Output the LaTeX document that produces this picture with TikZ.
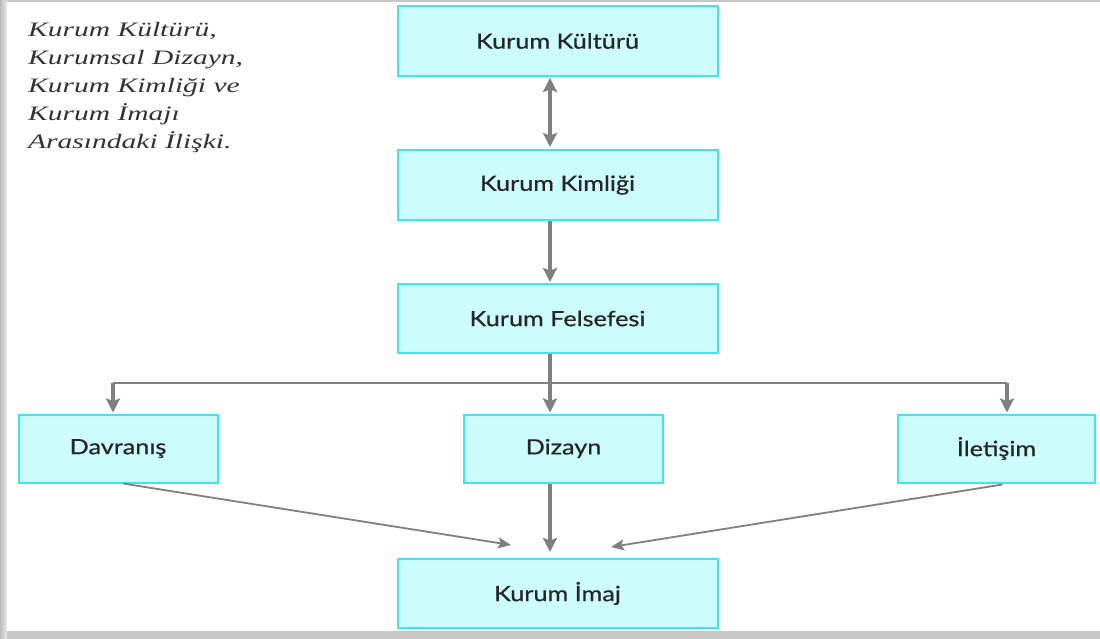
\documentclass[tikz,border=0pt]{standalone}
\usepackage{fontspec}
\usepackage{graphicx}
\setmainfont{Lato}[FakeBold=0.6]
\newfontfamily\capfont{Liberation Serif}
\usetikzlibrary{arrows.meta}
\definecolor{boxfill}{HTML}{CCFCFC}
\definecolor{boxline}{HTML}{3DE6F0}
\definecolor{arr}{HTML}{808080}
\definecolor{txt}{HTML}{262626}
\tikzset{
  box/.style={draw=boxline, line width=2pt, fill=boxfill, inner sep=0pt,
    font=\fontsize{21}{24}\selectfont, text=txt},
  thick arrow/.style={draw=arr, line width=3.2pt, -{Stealth[length=14pt,width=14pt,inset=2.5pt]}},
  thin line/.style={draw=arr, line width=1.8pt},
  thin arrow/.style={draw=arr, line width=1.8pt, -{Stealth[length=13pt,width=11pt,inset=2.5pt]}},
  both arrow/.style={draw=arr, line width=3.2pt, {Stealth[length=14pt,width=14pt,inset=2.5pt]}-{Stealth[length=14pt,width=14pt,inset=2.5pt]}},
}
\newcommand{\wide}[1]{\scalebox{1.2}[1]{#1}}
\newcommand{\capwide}[1]{\scalebox{1.44}[1]{#1}}
\begin{document}
\begin{tikzpicture}[x=1pt,y=-1pt]
\useasboundingbox (0,0) rectangle (1100,639);
% background with shadow
\fill[black!22] (0,0) rectangle (1100,639);
\shade[left color=black!26, right color=black!8] (0,0) rectangle (7,639);
\fill[white] (7,2) rectangle (1100,631);

% caption (base anchor = baseline of the last line)
\node[anchor=base west, align=left, text=black!80, inner sep=0pt,
  font=\capfont\itshape\fontsize{20.5}{28}\selectfont] (cap) at (28,149)
  {\capwide{Kurum Kültürü,}\\ \capwide{Kurumsal Dizayn,}\\ \capwide{Kurum Kimliği ve}\\ \capwide{Kurum İmajı}\\ \capwide{Arasındaki İlişki.}};

% boxes
\node[box, minimum width=320pt, minimum height=70pt] (kk) at (557.5,41) {\wide{Kurum Kültürü}};
\node[box, minimum width=320pt, minimum height=70pt] (kim) at (557.5,185) {\wide{Kurum Kimliği}};
\node[box, minimum width=320pt, minimum height=69pt] (fel) at (557.5,318.5) {\wide{Kurum Felsefesi}};
\node[box, minimum width=199pt, minimum height=68pt] (dav) at (118,448.5) {\wide{Davranış}};
\node[box, minimum width=199pt, minimum height=68pt] (diz) at (563.5,448.5) {\wide{Dizayn}};
\node[box, minimum width=197pt, minimum height=68pt] (ilet) at (996.5,448.5) {\wide{İletişim}};
\node[box, minimum width=320pt, minimum height=69pt] (img) at (557.5,593.5) {\wide{Kurum İmaj}};

% connectors
\draw[both arrow] ([xshift=-7.5pt,yshift=-1pt]kk.south) -- ([xshift=-7.5pt,yshift=2pt]kim.north);
\draw[thick arrow] ([xshift=-7.5pt]kim.south) -- ([xshift=-7.5pt,yshift=1pt]fel.north);
\coordinate (br) at ([xshift=-7.5pt,yshift=-29pt]fel.south);
\draw[thin line] ([xshift=-5pt]br -| dav.north) -- ([xshift=10.5pt]br -| ilet.north);
\draw[thick arrow] ([xshift=-5pt]br -| dav.north) -- ([xshift=-5pt,yshift=1pt]dav.north);
\draw[thick arrow] ([xshift=10.5pt]br -| ilet.north) -- ([xshift=10.5pt,yshift=1pt]ilet.north);
\draw[thick arrow] ([xshift=-7.5pt]fel.south) -- ([xshift=-7.5pt,yshift=1pt]fel.south |- diz.north);
\draw[thick arrow] ([xshift=-7.5pt]img.north |- diz.south) -- ([xshift=-7.5pt,yshift=6pt]img.north);
\coordinate (dtip) at (511,545);
\coordinate (itip) at (611,547);
\draw[thin arrow] ([xshift=5pt]dav.south) -- (dtip);
\draw[thin arrow] ([xshift=6pt,yshift=-1pt]ilet.south) -- (itip);
\end{tikzpicture}
\end{document}
